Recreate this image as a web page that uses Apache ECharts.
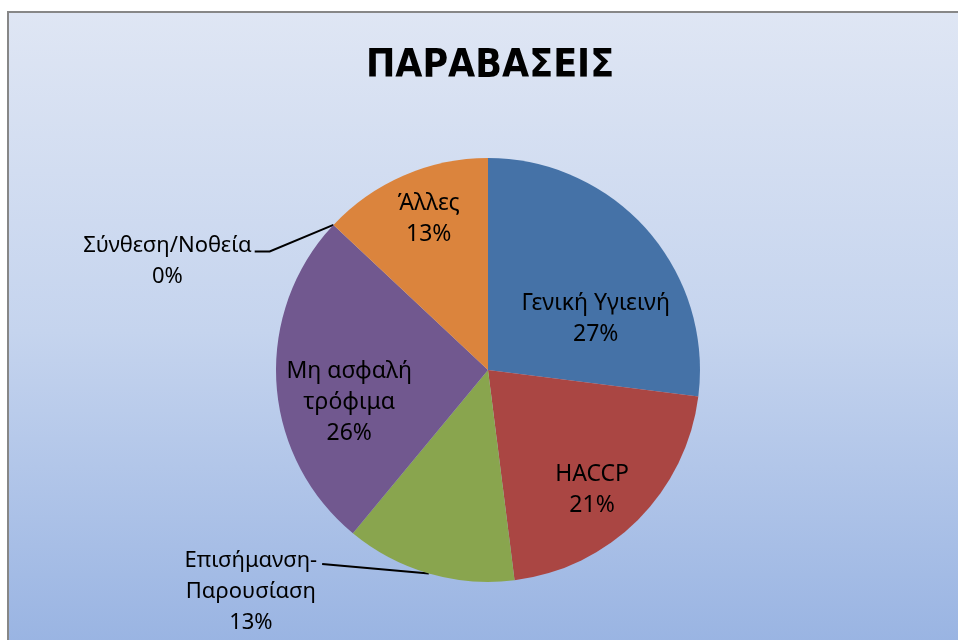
<!DOCTYPE html>
<html>
<head>
<meta charset="utf-8">
<script src="https://cdn.jsdelivr.net/npm/echarts@6/dist/echarts.min.js"></script>
<style>
html,body{margin:0;padding:0;background:#fff;}
#chart{width:958px;height:640px;}
</style>
</head>
<body>
<div id="chart"></div>
<script>
// ---- data ----
const titleText = 'ΠΑΡΑΒΑΣΕΙΣ';
const categories = ['Γενική Υγιεινή', 'HACCP', 'Επισήμανση-\nΠαρουσίαση', 'Μη ασφαλή\nτρόφιμα', 'Σύνθεση/Νοθεία', 'Άλλες'];
const values = [27, 21, 13, 26, 0, 13];
const colors = ['#4572A7', '#AA4643', '#89A54E', '#71588F', '#4198AF', '#DB843D'];

// ---- label styling ----
const LINE_H = 31;
const outsideIdx = [2, 4];
// inside labels: shift from library default position
const insideShift = {
  0: {dx: 26, dy: 21},
  1: {dx: 27, dy: 43},
  3: {dx: -30, dy: 26},
  5: {dx: -16, dy: -51}
};
// outside labels: text block (top-centre) placed relative to the slice edge point given by the library
const outsideShift = {
  2: {ox: -178, oy: -28, gap: 5, lineDy: 3, elbow: 0},
  4: {ox: -166, oy: 5, gap: 3, lineDy: 6, elbow: 15}
};

const chart = echarts.init(document.getElementById('chart'), null, {renderer: 'canvas'});
const labelFont = "'Noto Sans', 'DejaVu Sans', sans-serif";

function layoutLabel(p) {
  const i = p.dataIndex;
  if (!outsideIdx.includes(i)) return insideShift[i];
  const s = outsideShift[i];
  const pts = p.labelLinePoints;
  const edge = pts[0];
  const w = p.labelRect.width;
  const x = edge[0] + s.ox;
  const y = edge[1] + s.oy;
  const end = [x + w / 2 + s.gap, y + LINE_H / 2 + s.lineDy];
  const bend = s.elbow ? [end[0] + s.elbow, end[1]] : [(end[0] + edge[0]) / 2, (end[1] + edge[1]) / 2];
  return {
    x: x,
    y: y,
    align: 'center',
    verticalAlign: 'top',
    labelLinePoints: [edge, bend, end]
  };
}

const option = {
  backgroundColor: '#ffffff',
  animation: false,
  graphic: [{
    type: 'rect',
    z: -10,
    shape: {x: 8, y: 12, width: 960, height: 640},
    style: {
      fill: new echarts.graphic.LinearGradient(0, 0, 0, 1, [
        {offset: 0, color: '#dfe6f4'},
        {offset: 0.5, color: '#c5d4ee'},
        {offset: 1, color: '#98b3e2'}
      ]),
      stroke: '#878787',
      lineWidth: 2
    },
    silent: true
  }],
  title: {
    text: titleText,
    left: 485,
    textAlign: 'center',
    top: 42,
    textStyle: {
      fontFamily: "'Liberation Sans Narrow', 'DejaVu Sans Condensed', sans-serif",
      fontWeight: 'bold',
      fontSize: 39,
      color: '#000'
    }
  },
  series: [{
    type: 'pie',
    center: [488, 370],
    radius: [0, 212],
    startAngle: 90,
    clockwise: true,
    avoidLabelOverlap: false,
    data: categories.map((c, i) => ({
      name: c,
      value: values[i],
      itemStyle: {color: colors[i]},
      label: outsideIdx.includes(i) ? {position: 'outside', fontSize: 22} : {position: 'inside', fontSize: 23},
      labelLine: outsideIdx.includes(i) ? {show: true} : {show: false}
    })),
    label: {
      show: true,
      formatter: p => p.name + '\n' + Math.round(p.percent) + '%',
      fontFamily: labelFont,
      fontSize: 22,
      lineHeight: LINE_H,
      color: '#000',
      align: 'center'
    },
    labelLine: {
      length: 15,
      length2: 15,
      lineStyle: {color: '#000', width: 2}
    },
    labelLayout: layoutLabel,
    emphasis: {disabled: true}
  }]
};
chart.setOption(option);
</script>
</body>
</html>
